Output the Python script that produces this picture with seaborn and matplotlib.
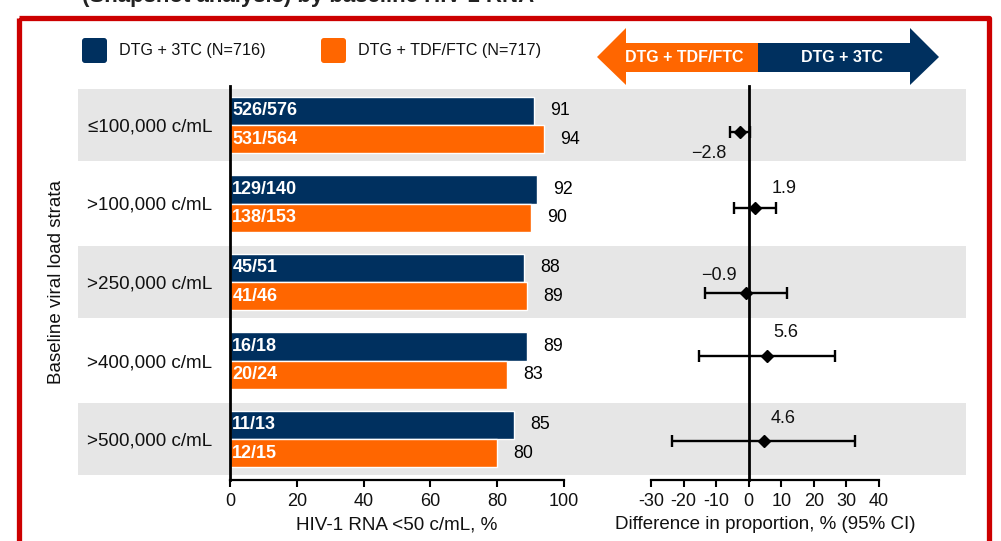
import numpy as np
import pandas as pd
import matplotlib
matplotlib.use("Agg")
import matplotlib.pyplot as plt
import seaborn as sns
from matplotlib.patches import Rectangle, Polygon, FancyBboxPatch
from matplotlib.transforms import Affine2D

# ---------------- data ----------------
strata = ["≤100,000 c/mL", ">100,000 c/mL", ">250,000 c/mL", ">400,000 c/mL", ">500,000 c/mL"]
arms = ["DTG + 3TC", "DTG + TDF/FTC"]
legend_labels = ["DTG + 3TC (N=716)", "DTG + TDF/FTC (N=717)"]
pct_3tc = [91, 92, 88, 89, 85]
pct_tdf = [94, 90, 89, 83, 80]
frac_3tc = ["526/576", "129/140", "45/51", "16/18", "11/13"]
frac_tdf = ["531/564", "138/153", "41/46", "20/24", "12/15"]
diff = [-2.8, 1.9, -0.9, 5.6, 4.6]
ci_low = [-5.8, -4.6, -13.5, -15.3, -23.5]
ci_high = [0.3, 8.5, 11.8, 26.6, 32.7]
bar_ticks = [0, 20, 40, 60, 80, 100]
diff_ticks = [-30, -20, -10, 0, 10, 20, 30, 40]
arrow_labels = ["DTG + TDF/FTC", "DTG + 3TC"]
title_fragment = "(Snapshot analysis) by baseline HIV-1 RNA"

# ---------------- style ----------------
NAVY = "#00305F"
ORANGE = "#FF6600"
RED = "#CC0000"
BAND = "#E6E6E6"

W, H = 1001, 541
sns.set_theme(style="white")
plt.rcParams["font.family"] = ["Liberation Sans", "DejaVu Sans"]
plt.rcParams["axes.unicode_minus"] = False

fig = plt.figure(figsize=(W / 100, H / 100), dpi=100)
pix = Affine2D().scale(1 / W, -1 / H).translate(0, 1) + fig.transFigure


def rect(x0, y0, x1, y1):
    return [x0 / W, 1 - y1 / H, (x1 - x0) / W, (y1 - y0) / H]


AX_TOP, AX_BOT = 86, 480
ROW0, STEP = 125, 78.5
ylim = ((AX_BOT - ROW0) / STEP, (AX_TOP - ROW0) / STEP)

# background bands
ax_bg = fig.add_axes(rect(0, AX_TOP, W, AX_BOT))
ax_bg.set_xlim(0, 1)
ax_bg.set_ylim(*ylim)
ax_bg.axis("off")
for i in range(0, len(strata), 2):
    ax_bg.axhspan(i - 0.46, i + 0.46, xmin=78 / W, xmax=966 / W, color=BAND, lw=0)

# ---------------- bar panel ----------------
ax = fig.add_axes(rect(230, AX_TOP, 564, AX_BOT))
ax.set_facecolor("none")
df = pd.DataFrame({
    "stratum": strata * 2,
    "arm": [arms[0]] * len(strata) + [arms[1]] * len(strata),
    "pct": pct_3tc + pct_tdf,
})
sns.barplot(data=df, x="pct", y="stratum", hue="arm", order=strata, hue_order=arms,
            palette=[NAVY, ORANGE], orient="h", width=0.72, saturation=1,
            errorbar=None, legend=False, ax=ax)
for cont, fracs, vals in zip(ax.containers, [frac_3tc, frac_tdf], [pct_3tc, pct_tdf]):
    for bar, fr, v in zip(cont, fracs, vals):
        yc = bar.get_y() + bar.get_height() / 2
        ax.text(0.7, yc, fr, color="white", fontsize=13, fontweight="bold",
                ha="left", va="center")
        ax.text(bar.get_width() + 4.8, yc, str(v), color="black", fontsize=12.8,
                ha="left", va="center", clip_on=False)
ax.set_xlim(0, 100)
ax.set_ylim(*ylim)
ax.set_xticks(bar_ticks)
ax.set_ylabel("")
ax.set_xlabel("HIV-1 RNA <50 c/mL, %", fontsize=13.6, labelpad=5, color="#111111")
for s in ["top", "right"]:
    ax.spines[s].set_visible(False)
ax.spines["left"].set_color("black")
ax.spines["left"].set_linewidth(2)
ax.spines["bottom"].set_color("black")
ax.spines["bottom"].set_linewidth(1.6)
ax.tick_params(axis="x", direction="out", length=5, width=1.5, labelsize=13,
               bottom=True, color="black", pad=4, labelcolor="#111111")
ax.tick_params(axis="y", length=0, pad=13, labelsize=13.6, labelcolor="#111111")

# ---------------- forest panel ----------------
axf = fig.add_axes(rect(651, AX_TOP, 879, AX_BOT))
axf.set_facecolor("none")
pt_dy = [0.09, 0.06, 0.14, -0.06, 0.03]
y_pts = [i + d for i, d in enumerate(pt_dy)]
xerr = [np.subtract(diff, ci_low), np.subtract(ci_high, diff)]
axf.errorbar(diff, y_pts, xerr=xerr, fmt="D", color="black", ms=6.5,
             elinewidth=1.7, capsize=4.5, capthick=1.7, zorder=3)
lab_off = [(-31, 21), (29, -20), (-27, -17), (19, -23), (19, -23)]
for x, y, (dx, dy) in zip(diff, y_pts, lab_off):
    axf.annotate(f"{x:.1f}".replace("-", "\u2212"), (x, y), xytext=(dx * 0.72, -dy * 0.72),
                 textcoords="offset points", ha="center", va="center", fontsize=13,
                 color="#111111")
axf.set_xlim(-30, 40)
axf.set_ylim(*ylim)
axf.set_yticks([])
axf.set_xticks(diff_ticks)
axf.spines["left"].set_position(("data", 0))
axf.spines["left"].set_color("black")
axf.spines["left"].set_linewidth(2)
axf.spines["bottom"].set_color("black")
axf.spines["bottom"].set_linewidth(1.6)
for s in ["top", "right"]:
    axf.spines[s].set_visible(False)
axf.tick_params(axis="x", direction="out", length=5, width=1.5, labelsize=13,
                bottom=True, color="black", pad=4, labelcolor="#111111")
axf.set_xlabel("Difference in proportion, % (95% CI)", fontsize=13.5, labelpad=5,
               color="#111111")

# ---------------- decorations ----------------
fig.text(57 / W, 1 - 282 / H, "Baseline viral load strata", rotation=90, fontsize=13.5,
         ha="center", va="center", color="#111111")

# legend
for (x0, col), lab in zip([(82, NAVY), (321, ORANGE)], legend_labels):
    fig.add_artist(FancyBboxPatch((x0, 38), 25, 25, boxstyle="round,pad=0,rounding_size=3",
                                  transform=pix, fc=col, ec="none"))
    fig.text((x0 + 37) / W, 1 - 51 / H, lab, fontsize=11.6, ha="left", va="center",
             color="#111111")

# direction arrow
fig.add_artist(Polygon([(597, 57), (626, 28), (626, 43), (758, 43), (758, 72), (626, 72), (626, 85)],
                       closed=True, transform=pix, fc=ORANGE, ec="none"))
fig.add_artist(Polygon([(758, 43), (910, 43), (910, 28), (939, 57), (910, 85), (910, 72), (758, 72)],
                       closed=True, transform=pix, fc=NAVY, ec="none"))
fig.text(684 / W, 1 - 57 / H, arrow_labels[0], color="white", fontsize=11.5,
         fontweight="bold", ha="center", va="center")
fig.text(842 / W, 1 - 57 / H, arrow_labels[1], color="white", fontsize=11.5,
         fontweight="bold", ha="center", va="center")

# red frame
fig.add_artist(Rectangle((19, 17.5), 969.5, 600, transform=pix, fill=False, ec=RED,
                         lw=3.8, joinstyle="round"))

# clipped title fragment at the very top (as in the cropped reference)
fig.text(82 / W, 1 - 2 / H, title_fragment, fontsize=16, fontweight="bold",
         ha="left", va="baseline", color="#222222")

fig.savefig("out.png", dpi=100)
